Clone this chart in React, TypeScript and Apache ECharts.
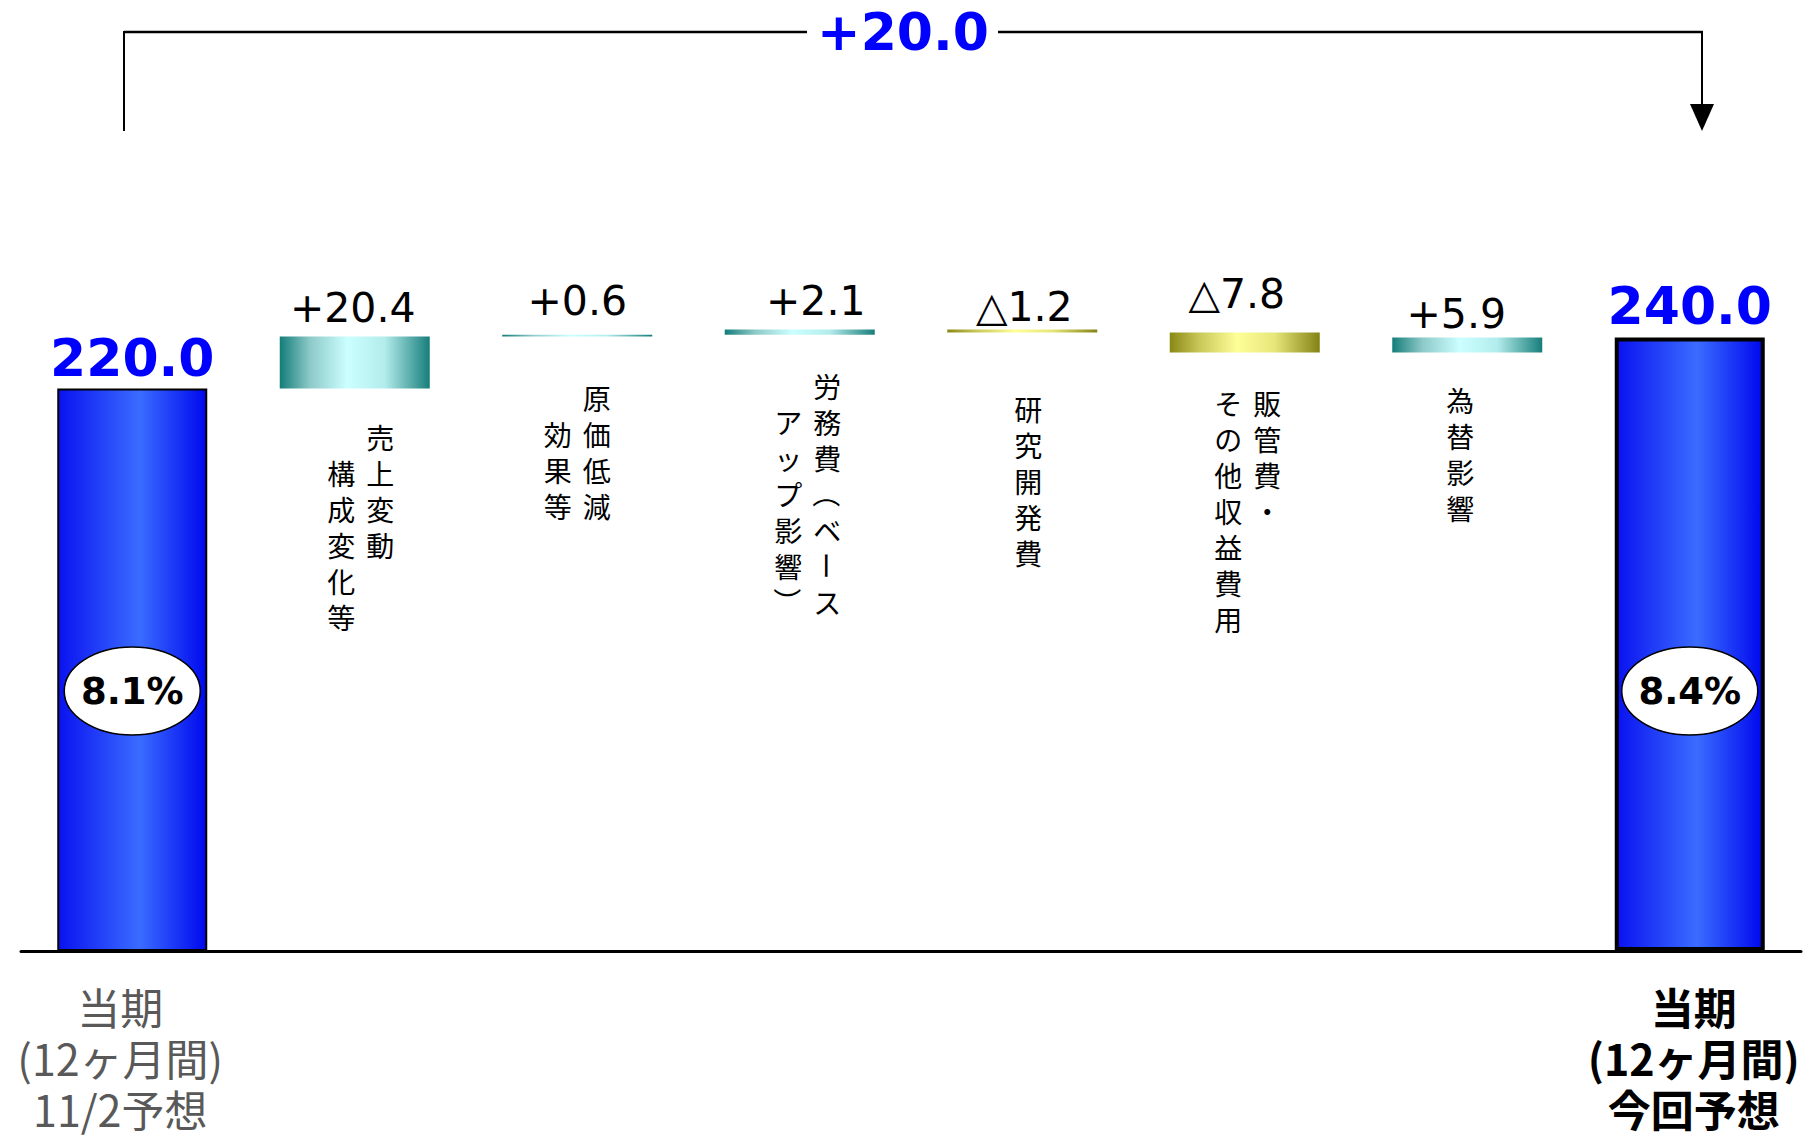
import React, { useEffect, useRef } from "react";
import * as echarts from "echarts";

// ---- data ----
const categories = [
  "当期(12ヶ月間)11/2予想",
  "売上構成変化等",
  "原価低減効果等",
  "労務費(ベースアップ影響)",
  "研究開発費",
  "販管費・その他収益費用",
  "為替影響",
  "当期(12ヶ月間)今回予想",
];
const startValue = 220.0;
const endValue = 240.0;
const deltas = [20.4, 0.6, 2.1, -1.2, -7.8, 5.9];
const startRatio = 8.1;
const endRatio = 8.4;
// vertical labels, columns listed right-to-left
const verticalLabels: string[][] = [
  ["売上変動", "　構成変化等"],
  ["原価低減", "　効果等"],
  ["労務費（ベース", "　アップ影響）"],
  ["研究開発費"],
  ["販管費・", "その他収益費用"],
  ["為替影響"],
];
const bottomLabelStart = ["当期", "(12ヶ月間)", "11/2予想"];
const bottomLabelEnd = ["当期", "(12ヶ月間)", "今回予想"];

// ---- layout / style (pixels) ----
const deltaLabelOffsets: number[][] = [
  [-2, -8],
  [0, -13],
  [16, -8],
  [2, -2],
  [-8, -18],
  [-11, -3],
];
const vLabelDy = [30, 44, 33, 58, 33, 30];
const vLabelDx = [6, 0, 8, 6, 3, -7];
const ellipseY = 691;
const rotatedChars = ["（", "）", "ー"];

const LATIN = "'DejaVu Sans', 'Noto Sans CJK JP', sans-serif";
const CJK = "'Noto Sans CJK JP', 'Noto Sans', sans-serif";

const tealGrad = () =>
  new echarts.graphic.LinearGradient(0, 0, 1, 0, [
    { offset: 0, color: "#147d79" },
    { offset: 0.2, color: "#8cc9c8" },
    { offset: 0.45, color: "#ccffff" },
    { offset: 0.7, color: "#b3ecec" },
    { offset: 1, color: "#177e7a" },
  ]);
const oliveGrad = () =>
  new echarts.graphic.LinearGradient(0, 0, 1, 0, [
    { offset: 0, color: "#8a8814" },
    { offset: 0.2, color: "#c9c85a" },
    { offset: 0.45, color: "#ffff99" },
    { offset: 0.7, color: "#e6e67a" },
    { offset: 1, color: "#848214" },
  ]);
const blueGrad = () =>
  new echarts.graphic.LinearGradient(0, 0, 1, 0, [
    { offset: 0, color: "#0a12f0" },
    { offset: 0.55, color: "#3a6cff" },
    { offset: 1, color: "#0008ee" },
  ]);

export default function App() {
  const ref = useRef<HTMLDivElement>(null);

  useEffect(() => {
    document.body.style.margin = "0";
    if (!ref.current) return;
    const chart = echarts.init(ref.current, null, { renderer: "svg" });

    const n = categories.length;
    const baseData: any[] = [];
    const deltaData: any[] = [];
    const totalData: any[] = [];
    const lowValues: number[] = [];
    let cur = startValue;
    baseData.push("-");
    deltaData.push("-");
    totalData.push({
      value: startValue,
      itemStyle: { color: blueGrad(), borderColor: "#000", borderWidth: 2 },
    });
    deltas.forEach((d, i) => {
      const next = +(cur + d).toFixed(1);
      const low = Math.min(cur, next);
      lowValues.push(low);
      baseData.push(low);
      deltaData.push({
        value: Math.abs(d),
        change: d,
        itemStyle: { color: d >= 0 ? tealGrad() : oliveGrad() },
        label: { offset: deltaLabelOffsets[i] },
      });
      totalData.push("-");
      cur = next;
    });
    baseData.push("-");
    deltaData.push("-");
    totalData.push({
      value: endValue,
      itemStyle: { color: blueGrad(), borderColor: "#000", borderWidth: 4 },
    });

    const vLabelData = verticalLabels.map((_, i) => [i + 1, lowValues[i], i]);
    const ratioData = [
      [0, startRatio],
      [n - 1, endRatio],
    ];

    const totalChange = endValue - startValue;
    const bracketText = (totalChange >= 0 ? "+" : "△") + Math.abs(totalChange).toFixed(1);

    const option: any = {
      animation: false,
      grid: { left: 21, right: 14, top: 184, bottom: 188, containLabel: false },
      xAxis: {
        type: "category",
        data: categories,
        axisLine: { show: true, lineStyle: { color: "#000", width: 3 } },
        axisTick: { show: false },
        axisLabel: {
          interval: 0,
          margin: 29,
          formatter: (_v: string, idx: number) => {
            if (idx === 0) return bottomLabelStart.map((s) => `{a|${s}}`).join("\n");
            if (idx === n - 1) return bottomLabelEnd.map((s) => `{b|${s}}`).join("\n");
            return "";
          },
          rich: {
            a: {
              fontFamily: CJK,
              fontSize: 43,
              lineHeight: 51,
              color: "#595959",
              padding: [0, 24, 0, 0],
            },
            b: {
              fontFamily: CJK,
              fontSize: 43,
              lineHeight: 51,
              color: "#000",
              fontWeight: "bold",
              padding: [0, 0, 0, 8],
            },
          },
        },
        splitLine: { show: false },
      },
      yAxis: { type: "value", min: 0, max: 300, show: false },
      series: [
        {
          name: "base",
          type: "bar",
          stack: "wf",
          barWidth: 150,
          itemStyle: { color: "transparent" },
          emphasis: { disabled: true },
          silent: true,
          data: baseData,
        },
        {
          name: "delta",
          type: "bar",
          stack: "wf",
          barWidth: 150,
          silent: true,
          data: deltaData,
          label: {
            show: true,
            position: "top",
            distance: 0,
            fontFamily: LATIN,
            fontSize: 41,
            color: "#000",
            formatter: (p: any) => {
              const c = p.data.change;
              return (c >= 0 ? "+" : "△") + Math.abs(c).toFixed(1);
            },
          },
        },
        {
          name: "total",
          type: "bar",
          stack: "wf",
          barWidth: 150,
          silent: true,
          data: totalData,
          label: {
            show: true,
            position: "top",
            distance: 5,
            fontFamily: LATIN,
            fontSize: 52,
            fontWeight: "bold",
            color: "#0000ff",
            formatter: (p: any) => Number(p.value).toFixed(1),
          },
        },
        {
          name: "vlabels",
          type: "custom",
          silent: true,
          z: 10,
          data: vLabelData,
          renderItem: (_params: any, api: any) => {
            const idx = api.value(0);
            const low = api.value(1);
            const k = api.value(2);
            const pt = api.coord([idx, low]);
            const cols = verticalLabels[k];
            const pitchX = 39;
            const pitchY = 36;
            const m = cols.length;
            const children: any[] = [];
            cols.forEach((col, c) => {
              const x = pt[0] + vLabelDx[k] + ((m - 1) / 2 - c) * pitchX;
              Array.from(col).forEach((ch, j) => {
                if (ch === "　") return;
                const rot = rotatedChars.indexOf(ch) >= 0;
                children.push({
                  type: "text",
                  x,
                  y: pt[1] + vLabelDy[k] + j * pitchY + pitchY / 2,
                  rotation: rot ? -Math.PI / 2 : 0,
                  style: {
                    text: ch,
                    fontFamily: CJK,
                    fontSize: 28,
                    fill: "#000",
                    align: "center",
                    verticalAlign: "middle",
                  },
                });
              });
            });
            return { type: "group", children };
          },
        },
        {
          name: "ratios",
          type: "custom",
          silent: true,
          z: 10,
          data: ratioData,
          renderItem: (_params: any, api: any) => {
            const idx = api.value(0);
            const r = api.value(1);
            const pt = api.coord([idx, 0]);
            return {
              type: "group",
              children: [
                {
                  type: "ellipse",
                  shape: { cx: pt[0], cy: ellipseY, rx: 68, ry: 44 },
                  style: { fill: "#fff", stroke: "#000", lineWidth: 1.5 },
                },
                {
                  type: "text",
                  x: pt[0],
                  y: ellipseY,
                  style: {
                    text: Number(r).toFixed(1) + "%",
                    fontFamily: LATIN,
                    fontSize: 37,
                    fontWeight: "bold",
                    fill: "#000",
                    align: "center",
                    verticalAlign: "middle",
                  },
                },
              ],
            };
          },
        },
      ],
      graphic: [
        {
          type: "line",
          shape: { x1: 124, y1: 32, x2: 807, y2: 32 },
          style: { stroke: "#000", lineWidth: 2.5 },
        },
        {
          type: "line",
          shape: { x1: 998, y1: 32, x2: 1703, y2: 32 },
          style: { stroke: "#000", lineWidth: 2.5 },
        },
        {
          type: "line",
          shape: { x1: 124, y1: 31, x2: 124, y2: 131 },
          style: { stroke: "#000", lineWidth: 2 },
        },
        {
          type: "line",
          shape: { x1: 1702, y1: 31, x2: 1702, y2: 108 },
          style: { stroke: "#000", lineWidth: 2 },
        },
        {
          type: "polygon",
          shape: { points: [[1690, 104], [1714, 104], [1702, 131]] },
          style: { fill: "#000" },
        },
        {
          type: "text",
          x: 903,
          y: 32,
          style: {
            text: bracketText,
            fontFamily: LATIN,
            fontSize: 52,
            fontWeight: "bold",
            fill: "#0000ff",
            align: "center",
            verticalAlign: "middle",
          },
        },
      ],
    };

    chart.setOption(option);
    return () => chart.dispose();
  }, []);

  return (
    <div
      ref={ref}
      style={{ position: "absolute", left: 0, top: 0, width: 1815, height: 1139, background: "#fff" }}
    />
  );
}
